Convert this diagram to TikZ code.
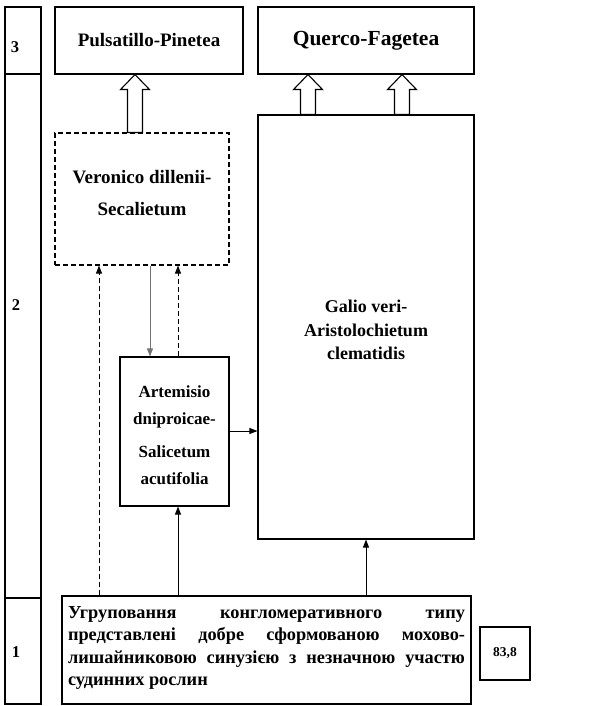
\documentclass[tikz,border=0pt]{standalone}
\usepackage{fontspec}
\setmainfont{Liberation Serif}
\usetikzlibrary{calc,arrows.meta}
\newcommand\hollowarrow[2]{%
  \draw[hollow] ($(#1)+(-7.5,0)$) -- ($(#2)+(-7.5,15)$) -- ($(#2)+(-14.5,15)$) -- (#2)
    -- ($(#2)+(14.5,15)$) -- ($(#2)+(7.5,15)$) -- ($(#1)+(7.5,0)$) -- cycle;}
\begin{document}
\begin{tikzpicture}[x=1pt,y=-1pt,
  box/.style={draw, rectangle, inner sep=0pt, line width=1.1pt},
  dbox/.style={box, dash pattern=on 5pt off 3pt},
  hollow/.style={draw, line width=1.1pt, fill=white, line join=miter},
  lbl/.style={font=\bfseries\fontsize{16.5}{18}\selectfont},
  arr/.style={-{Triangle[length=8pt,width=6pt]}, line width=0.9pt},
  darr/.style={arr, dash pattern=on 5pt off 3pt},
  garr/.style={arr, draw=black!55, fill=black!55}
]
\useasboundingbox (0,0) rectangle (609,706);
% left column
\node[box, minimum width=36pt, minimum height=67pt] (c3) at (23,40.5) {};
\node[box, minimum width=36pt, minimum height=524pt] (c2) at (23,336) {};
\node[box, minimum width=36pt, minimum height=106pt] (c1) at (23,651) {};
\node[lbl] (l3) at (15,47) {3};
\node[lbl] (l2) at (16,305) {2};
\node[lbl] (l1) at (16,652) {1};
% top boxes
\node[box, minimum width=188pt, minimum height=67pt, font=\bfseries\fontsize{19}{22}\selectfont] (pp) at (149,40.5) {Pulsatillo-Pinetea};
\node[box, minimum width=216pt, minimum height=67pt, font=\bfseries\fontsize{21.5}{26}\selectfont] (qf) at (366,40.5) {Querco-Fagetea};
% Veronico
\node[dbox, minimum width=174pt, minimum height=132pt] (ver) at (142,199) {};
\node[align=center, font=\bfseries\fontsize{19}{32}\selectfont] (vert) at (142,193) {Veronico dillenii-\\Secalietum};
% Galio
\node[box, minimum width=216pt, minimum height=424pt] (gal) at (366,327) {};
\node[align=center, font=\bfseries\fontsize{18}{23.5}\selectfont] (galt) at (366,330) {Galio veri-\\Aristolochietum\\clematidis};
% Artemisio
\node[box, minimum width=109pt, minimum height=149pt] (art) at (174.5,431.5) {};
\node[align=center, font=\bfseries\fontsize{17}{27}\selectfont] (artt) at (174.5,435) {Artemisio\\dniproicae-\\[6pt]Salicetum\\acutifolia};
% bottom
\node[box, minimum width=409pt, minimum height=108pt] (bot) at (266.5,650) {};
\node[text width=397pt, align=justify, inner sep=0pt, font=\bfseries\fontsize{18.3}{22.5}\selectfont] (bott) at (266.5,648)
 {\hyphenpenalty=10000 \tolerance=9999 Угруповання конгломеративного типу\linebreak представлені добре сформованою мохово-\linebreak лишайниковою синузією з незначною участю\linebreak судинних рослин};
\node[box, minimum width=50pt, minimum height=53pt, font=\bfseries\fontsize{13.5}{16}\selectfont] (num) at (505,653.5) {83,8};
% x positions
\coordinate (x99) at (99,0);
\coordinate (x135) at (135,0);
\coordinate (x150) at (150,0);
\coordinate (x178) at (178,0);
\coordinate (x308) at (308,0);
\coordinate (x402) at (402,0);
\coordinate (x366) at (366,0);
\coordinate (y431) at (0,431);
% hollow arrows
\coordinate (h1a) at (ver.north -| x135);
\coordinate (h1b) at (pp.south -| x135);
\coordinate (h2a) at (gal.north -| x308);
\coordinate (h2b) at (qf.south -| x308);
\coordinate (h3a) at (gal.north -| x402);
\coordinate (h3b) at (qf.south -| x402);
\hollowarrow{h1a}{h1b}
\hollowarrow{h2a}{h2b}
\hollowarrow{h3a}{h3b}
% connectors
\draw[garr] (ver.south -| x150) -- (art.north -| x150);
\draw[darr] (art.north -| x178) -- (ver.south -| x178);
\draw[darr] (bot.north -| x99) -- (ver.south -| x99);
\draw[arr] (art.east |- y431) -- (gal.west |- y431);
\draw[arr] (bot.north -| x178) -- (art.south -| x178);
\draw[arr] (bot.north -| x366) -- (gal.south -| x366);
\end{tikzpicture}
\end{document}
